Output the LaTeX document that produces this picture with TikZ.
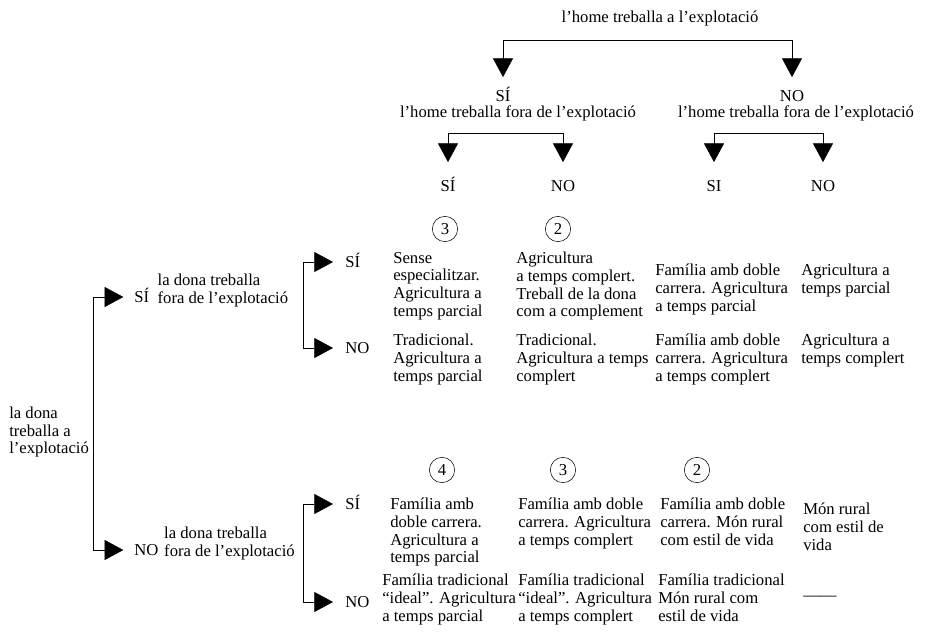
\documentclass[tikz,border=0pt]{standalone}
\usepackage{fontspec}
\setmainfont{Liberation Serif}
\usetikzlibrary{arrows.meta,positioning}

\begin{document}
\begin{tikzpicture}[x=0.75pt,y=-0.75pt]
 	\tikzstyle{txt}=[inner sep=0pt, font=\fontsize{12.5}{13.2}\selectfont]
 	\tikzstyle{lab}=[txt, text height=8.5pt, text depth=1pt]
 	\tikzstyle{cell}=[txt, align=left, anchor=north west]
 	\tikzstyle{num}=[circle, draw=black, thin, minimum size=19pt, inner sep=0pt, font=\fontsize{12.5}{13.2}\selectfont]
 	\tikzstyle{connect}=[-{Triangle[width=15pt,length=14pt]}, thin]
 	\tikzstyle{hv}=[to path={-| (\tikztotarget)}]
 	\tikzstyle{vh}=[to path={|- (\tikztotarget)}]
 	\useasboundingbox (0,0) rectangle (947,635);
 	\node[txt] (home) at (660,18) {l'home treballa a l'explotació};
 	\coordinate (j0) at (648,40);
 	\node[lab] (hsi) at (503,97) {SÍ};
 	\node[lab] (hno) at (792,97) {NO};
 		\node[txt] (fsi) at (518,113) {l'home treballa fora de l'explotació};
 		\node[txt] (fno) at (796,113) {l'home treballa fora de l'explotació};
 	\coordinate (j1) at (506,133);
 	\coordinate (j2) at (768,133);
 	\node[lab] (ssi) at (448,186) {SÍ};
 	\node[lab] (sno) at (563,186) {NO};
 	\node[lab] (nsi) at (714,186) {SI};
 	\node[lab] (nno) at (823,186) {NO};
 	\node[num] (n3) at (445,229) {3};
 	\node[num] (n2) at (558,229) {2};
 	\node[txt, align=left, anchor=west] (dona) at (9,432) {la dona\\treballa a\\l'explotació};
 	\coordinate (j3) at (93,425);
 	\node[lab, anchor=west] (dsi) at (134,297) {SÍ};
 	\node[lab, anchor=west] (dno) at (134,550) {NO};
 		\node[cell] (fdsi) [right=6pt of dsi.north east] {la dona treballa\\fora de l'explotació};
 		\node[cell] (fdno) [right=4pt of dno.north east] {la dona treballa\\fora de l'explotació};
 	\coordinate (j4) at (303,305);
 	\coordinate (j5) at (303,552);
 	\node[lab, anchor=west] (usi) at (345,262) {SÍ};
 	\node[lab, anchor=west] (uno) at (345,348) {NO};
 	\node[lab, anchor=west] (lsi) at (345,504) {SÍ};
 	\node[lab, anchor=west] (lno) at (345,602) {NO};
 	\path (j0) edge [connect, hv, shorten >=10pt] (hsi.north)
 	(j0) edge [connect, hv, shorten >=10pt] (hno.north)
 	(j1) edge [connect, hv, shorten >=13pt] (ssi.north)
 	(j1) edge [connect, hv, shorten >=13pt] (sno.north)
 	(j2) edge [connect, hv, shorten >=13pt] (nsi.north)
 	(j2) edge [connect, hv, shorten >=13pt] (nno.north)
 	(j3) edge [connect, vh, shorten >=8pt] (dsi.west)
 	(j3) edge [connect, vh, shorten >=8pt] (dno.west)
 	(j4) edge [connect, vh, shorten >=9pt] (usi.west)
 	(j4) edge [connect, vh, shorten >=9pt] (uno.west)
 	(j5) edge [connect, vh, shorten >=9pt] (lsi.west)
 	(j5) edge [connect, vh, shorten >=9pt] (lno.west);
 	\node[cell] (r1c1) at (393,252) {Sense\\especialitzar.\\Agricultura a\\temps parcial};
 	\node[cell] (r1c2) at (516,252) {Agricultura\\a temps complert.\\Treball de la dona\\com a complement};
 	\node[cell] (r1c3) at (655,264) {Família amb doble\\carrera. Agricultura\\a temps parcial};
 	\node[cell] (r1c4) at (801,264) {Agricultura a\\temps parcial};
 	\node[cell] (r2c1) at (393,334) {Tradicional.\\Agricultura a\\temps parcial};
 	\node[cell] (r2c2) at (516,334) {Tradicional.\\Agricultura a temps\\complert};
 	\node[cell] (r2c3) at (655,334) {Família amb doble\\carrera. Agricultura\\a temps complert};
 	\node[cell] (r2c4) at (801,334) {Agricultura a\\temps complert};
 	\node[num] (n4) at (442,470) {4};
 	\node[num] (n3b) at (563,470) {3};
 	\node[num] (n2b) at (697,470) {2};
 	\node[cell] (r3c1) at (390,498) {Família amb\\doble carrera.\\Agricultura a\\temps parcial};
 	\node[cell] (r3c2) at (518,498) {Família amb doble\\carrera. Agricultura\\a temps complert};
 	\node[cell] (r3c3) at (660,498) {Família amb doble\\carrera. Món rural\\com estil de vida};
 	\node[cell] (r3c4) at (803,503) {Món rural\\com estil de\\vida};
 	\node[cell] (r4c1) at (382,574) {Família tradicional\\“ideal”. Agricultura\\a temps parcial};
 	\node[cell] (r4c2) at (518,574) {Família tradicional\\“ideal”. Agricultura\\a temps complert};
 	\node[cell] (r4c3) at (658,574) {Família tradicional\\Món rural com\\estil de vida};
 	\node[txt, anchor=west] (r4c4) at (803,598) {——};
\end{tikzpicture}
\end{document}
